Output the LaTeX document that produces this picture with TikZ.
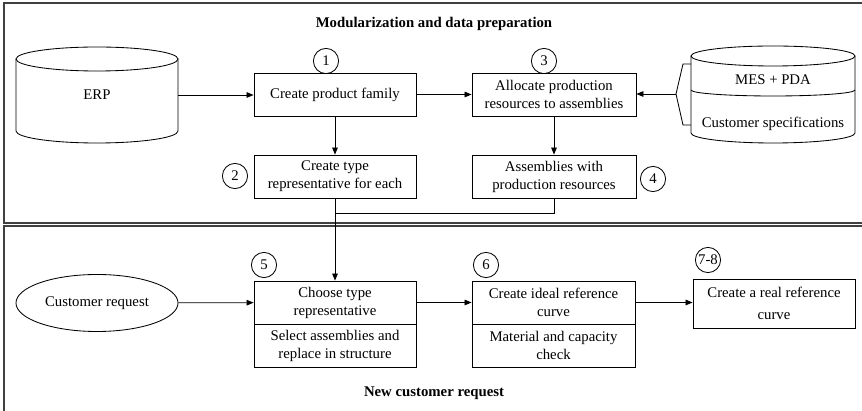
\documentclass[tikz,border=0pt]{standalone}
\usepackage{fontspec}
\setmainfont{Liberation Serif}
\usetikzlibrary{arrows.meta,shapes.geometric}

\tikzset{
	box/.style={draw, rectangle, minimum width=4.05cm, minimum height=1.075cm, inner sep=1pt, align=center},
	num/.style={draw, circle, minimum size=0.63cm, inner sep=0pt},
	arr/.style={-{Triangle[length=5pt,width=4pt]}},
	frame/.style={draw=black!75, line width=1pt},
	title/.style={font=\fontsize{10.5}{12.8}\selectfont\bfseries}
}

\begin{document}
\begin{tikzpicture}[x=0.025cm, y=-0.025cm, line width=0.6pt, font=\fontsize{10.5}{12.8}\selectfont]
			
			\useasboundingbox (0,0) rectangle (862,411);
			
			% Riquadri esterni
			\draw[frame] (4,3) rectangle (870,223);
			\draw[frame] (4,226) rectangle (870,416);
			\node[title] (toptitle) at (434,24) {Modularization and data preparation};
			\node[title] (bottomtitle) at (434,393) {New customer request};
			
			% ERP cylinder
			\draw (97,59) ellipse [x radius=81, y radius=12];
			\draw (16,59) -- (16,131) arc[start angle=180, end angle=0, x radius=81, y radius=12] -- (178,59);
			\node[minimum width=4.05cm, minimum height=2.4cm] (erp) at (97,95) {ERP};
			
			% MES + PDA cylinder
			\draw (773,56) ellipse [x radius=82, y radius=10];
			\draw (691,56) -- (691,133) arc[start angle=180, end angle=0, x radius=82, y radius=10] -- (855,56);
			\draw (691,90) arc[start angle=180, end angle=0, x radius=82, y radius=6];
			\node (mes) at (773,80) {MES + PDA};
			\node (spec) at (773,124) {Customer specifications};
			
			% bracket in front of the cylinder
			\coordinate (brace) at (676,94);
			\draw (691,64) -- (683,64) -- (brace) -- (683,125) -- (691,125);
			
			% upper row
			\node[box] (family) at (335,94.5) {Create product family};
			\node[box] (typerep) at (335,176.5) {Create type\\representative for each};
			\node[box, minimum width=4.1cm] (alloc) at (554,94.5) {Allocate production\\resources to assemblies};
			\node[box, minimum width=4.1cm] (assem) at (554,176.5) {Assemblies with\\production resources};
			
			% lower row
			\node[ellipse, draw, minimum width=4.05cm, minimum height=1.425cm, inner sep=0pt] (request) at (97,303) {Customer request};
			\node[box] (choose) at (335,302.5) {Choose type\\representative};
			\node[box] (select) at (335,345.5) {Select assemblies and\\replace in structure};
			\node[box, minimum width=4.075cm] (ideal) at (553.5,302.5) {Create ideal reference\\curve};
			\node[box, minimum width=4.075cm] (check) at (553.5,345.5) {Material and capacity\\check};
			\node[box, minimum height=1.225cm, font=\fontsize{10.5}{15.5}\selectfont] (real) at (774,303.5) {Create a real reference\\curve};
			
			% step numbers
			\node[num] (n1) at (326,61) {1};
			\node[num] (n2) at (235,176) {2};
			\node[num] (n3) at (544,61) {3};
			\node[num] (n4) at (653,179) {4};
			\node[num] (n5) at (264,265) {5};
			\node[num] (n6) at (486,265) {6};
			\node[num, inner sep=0pt] (n78) at (708,260) {7-8};
			
			% connectors
			\draw[arr] (erp.east) -- (erp.east -| family.west);
			\draw[arr] (family) -- (alloc);
			\draw[arr] (brace) -- (brace -| alloc.east);
			\draw[arr] (family) -- (typerep);
			\draw[arr] (alloc) -- (assem);
			\coordinate (join) at (335,213);
			\draw (assem.south) |- (join);
			\draw[arr] (typerep.south) -- (choose.north);
			\draw[arr] (request) -- (choose);
			\draw[arr] (choose) -- (ideal);
			\draw[arr] (ideal.east) -- (ideal.east -| real.west);
			
		\end{tikzpicture}
\end{document}
